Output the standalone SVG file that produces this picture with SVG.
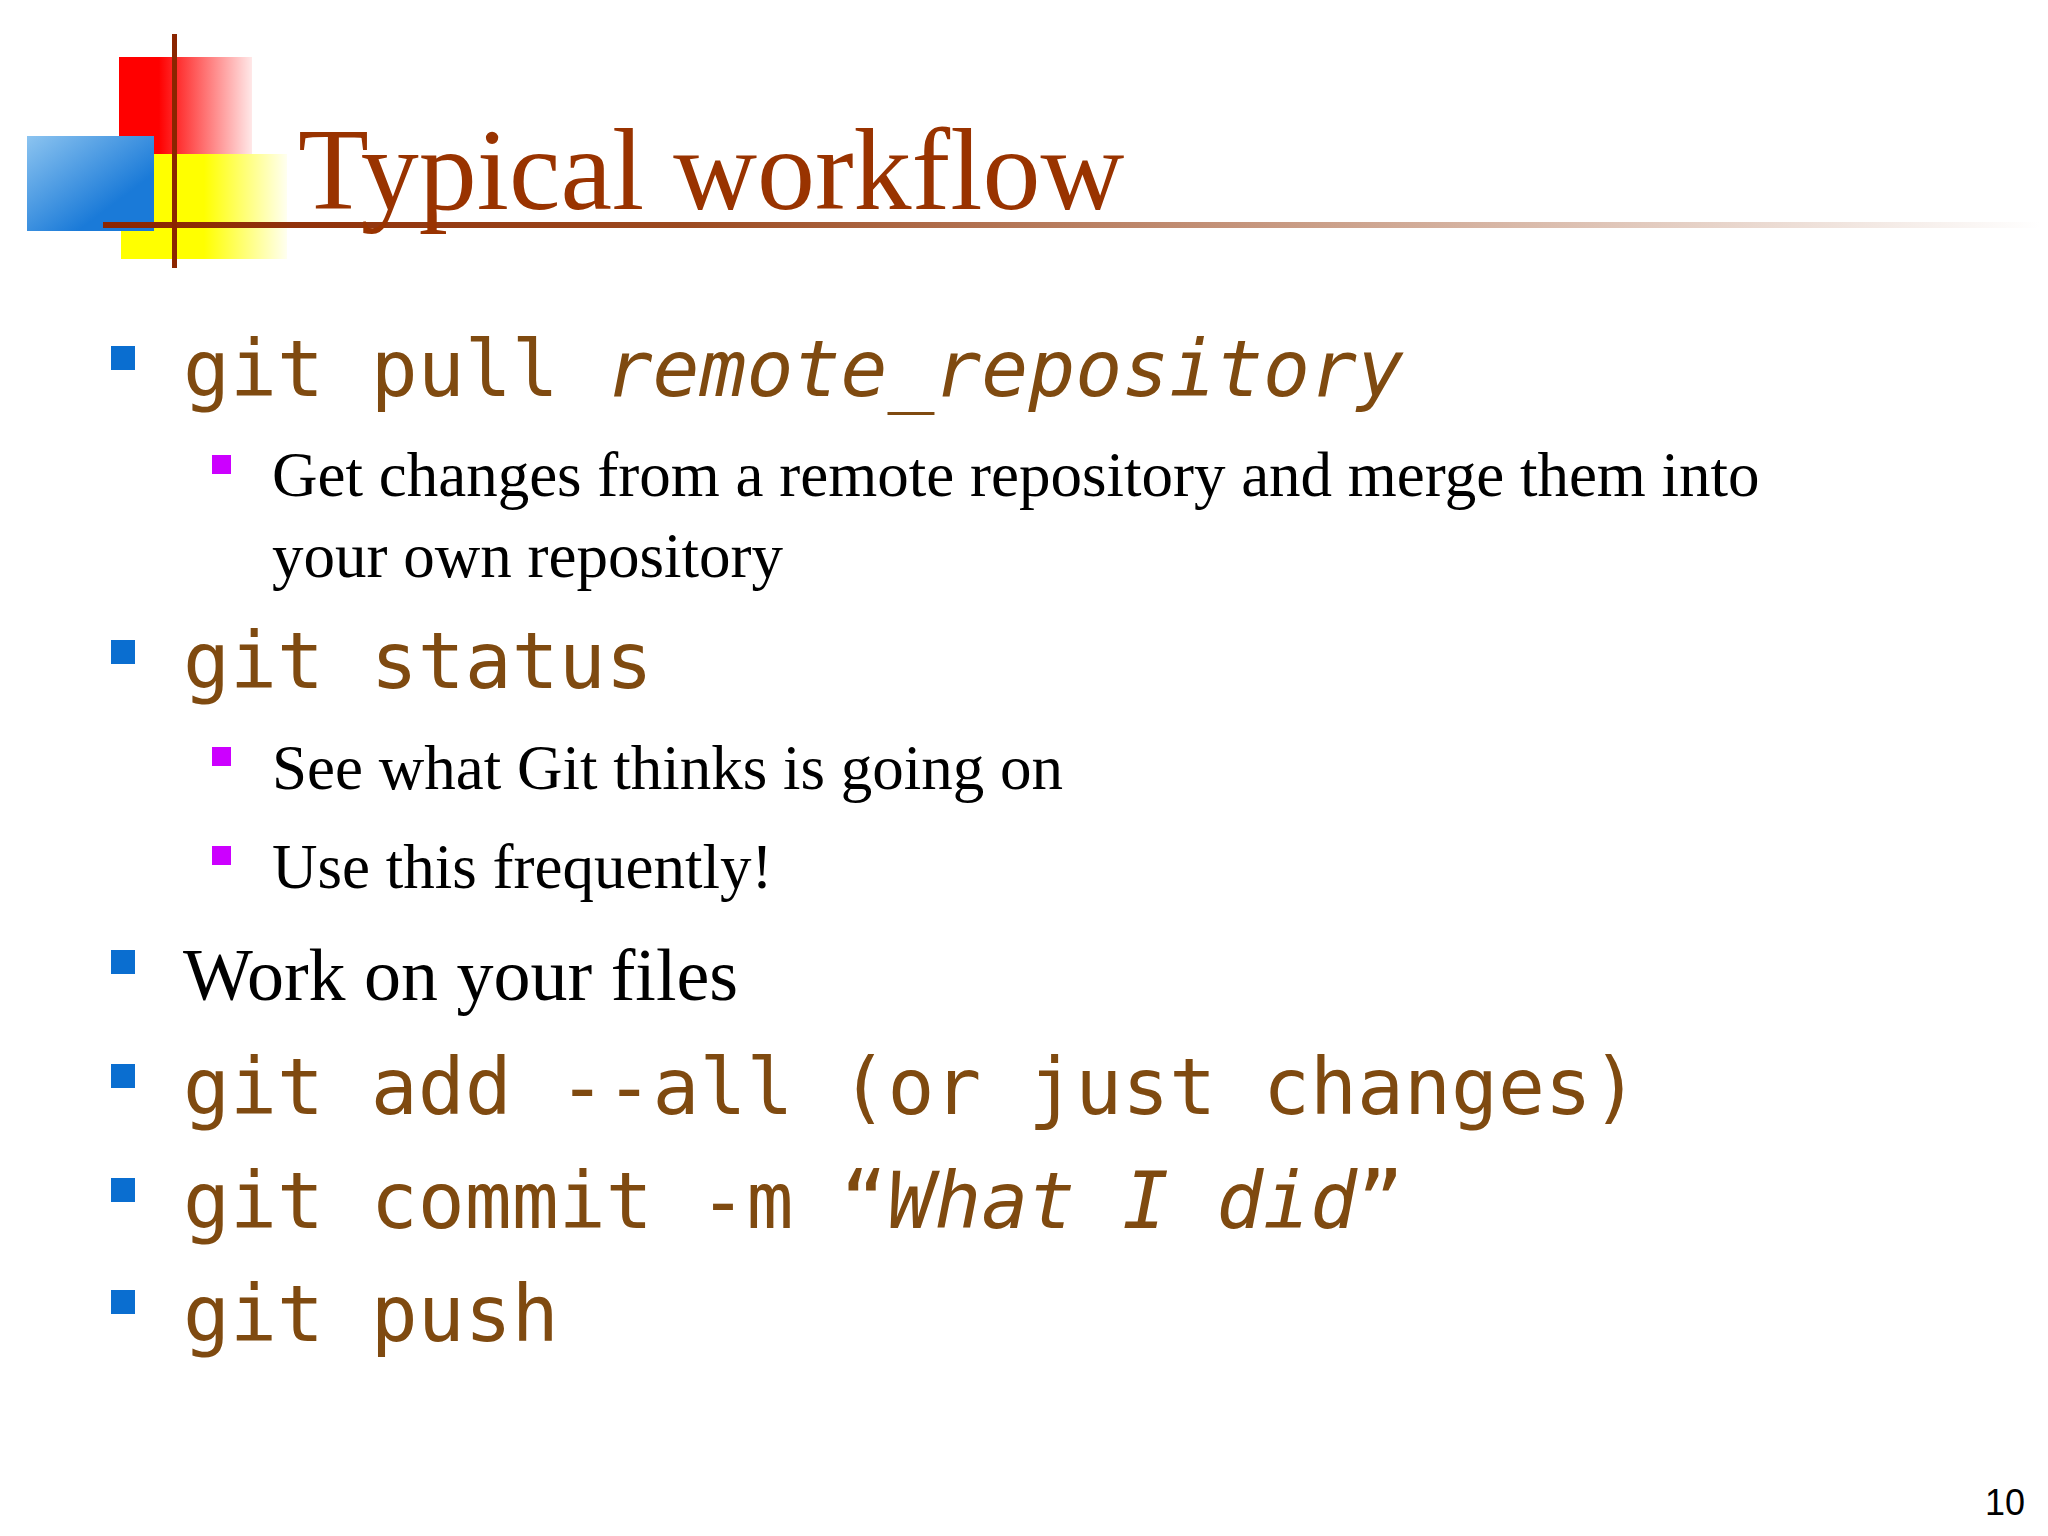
<svg xmlns="http://www.w3.org/2000/svg" width="2048" height="1536" viewBox="0 0 2048 1536">
<defs>
<linearGradient id="gr" x1="0" x2="1" y1="0" y2="0"><stop offset="0.3" stop-color="#ff0000"/><stop offset="1" stop-color="#ffe8e8"/></linearGradient>
<linearGradient id="gb" x1="0" x2="1" y1="0" y2="1"><stop offset="0" stop-color="#8cc4f0"/><stop offset="0.7" stop-color="#1a7ad8"/></linearGradient>
<linearGradient id="gy" x1="0" x2="1" y1="0" y2="0"><stop offset="0.5" stop-color="#ffff00"/><stop offset="1" stop-color="#fffff0"/></linearGradient>
<linearGradient id="gl" x1="0" x2="1" y1="0" y2="0"><stop offset="0" stop-color="#8b2500"/><stop offset="0.3" stop-color="#9c4a20"/><stop offset="1" stop-color="#ffffff"/></linearGradient>
<style>
.m{font-family:"DejaVu Sans Mono",monospace;font-size:78px;fill:#7f4a10}
.s{font-family:"Liberation Serif",serif;fill:#000}
.b{fill:#0a6ed0}
.p{fill:#cc00ff}
</style>
</defs>
<g id="logo">
<rect x="119" y="57" width="133" height="97" fill="url(#gr)"/>
<rect x="121" y="154" width="166" height="105" fill="url(#gy)"/>
<rect x="27" y="136" width="127" height="95" fill="url(#gb)"/>
<rect x="103" y="222" width="1937" height="6" fill="url(#gl)"/>
<rect x="172" y="34" width="5" height="234" fill="#8b2500"/>
</g>
<text x="298" y="209" font-family="Liberation Serif,serif" font-size="116" fill="#993300">Typical workflow</text>
<g id="bullets">
<rect class="b" x="111" y="346" width="24" height="24"/>
<rect class="b" x="111" y="640" width="24" height="24"/>
<rect class="b" x="111" y="950" width="24" height="24"/>
<rect class="b" x="111" y="1064" width="24" height="24"/>
<rect class="b" x="111" y="1178" width="24" height="24"/>
<rect class="b" x="111" y="1290" width="24" height="24"/>
<rect class="p" x="212" y="455" width="19" height="19"/>
<rect class="p" x="212" y="747" width="19" height="19"/>
<rect class="p" x="212" y="846" width="19" height="19"/>
</g>
<text class="m" x="183" y="396">git pull <tspan font-style="italic">remote_repository</tspan></text>
<text class="s" x="272" y="496" font-size="63">Get changes from a remote repository and merge them into</text>
<text class="s" x="272" y="577" font-size="63">your own repository</text>
<text class="m" x="183" y="688">git status</text>
<text class="s" x="272" y="789" font-size="63">See what Git thinks is going on</text>
<text class="s" x="272" y="888" font-size="63">Use this frequently!</text>
<text class="s" x="183" y="1000" font-size="74">Work on your files</text>
<text class="m" x="183" y="1114">git add --all (or just changes)</text>
<text class="m" x="183" y="1228">git commit -m “<tspan font-style="italic">What I did</tspan>”</text>
<text class="m" x="183" y="1341">git push</text>
<text x="1985" y="1515" font-family="Liberation Sans,sans-serif" font-size="36" fill="#000">10</text>
</svg>
